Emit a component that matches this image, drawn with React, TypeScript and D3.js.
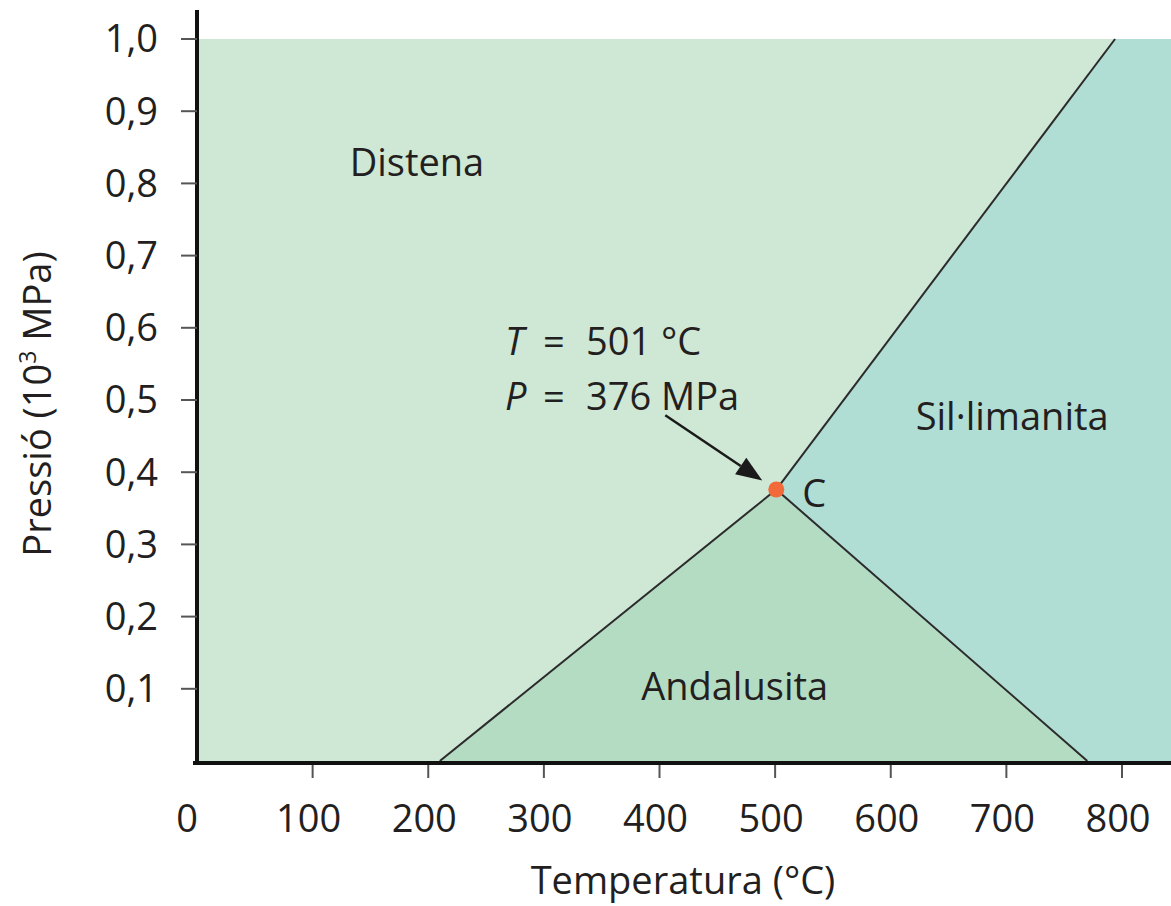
import React from 'react'
import * as d3 from 'd3'

// phase diagram Al2SiO5
const tempTicks = [0, 100, 200, 300, 400, 500, 600, 700, 800]
const presTicks = [0.1, 0.2, 0.3, 0.4, 0.5, 0.6, 0.7, 0.8, 0.9, 1.0]
const triplePoint = { T: 501, P: 0.376 }
const kyaniteAndalusite = [[210, 0], [501, 0.376]]
const kyaniteSillimanite = [[501, 0.376], [794, 1.0]]
const andalusiteSillimanite = [[501, 0.376], [770, 0]]
const phaseNames = ['Distena', 'Andalusita', 'Sil·limanita']
const annotationValues = ['501 °C', '376 MPa']

const W = 1171
const H = 906
const font = '"Open Sans", "Noto Sans", sans-serif'
const fs = 38
const textColor = '#231f20'

const x = d3.scaleLinear().domain([0, 800]).range([197, 1122])
const y = d3.scaleLinear().domain([0, 1]).range([761, 39])
const tMax = x.invert(W)

const line = d3.line<number[]>().x(d => x(d[0])).y(d => y(d[1]))
const area = (pts: number[][]) => line(pts) + 'Z'

const C: number[] = [triplePoint.T, triplePoint.P]
const distenaPoly = [[0, 0], kyaniteAndalusite[0], C, kyaniteSillimanite[1], [0, 1]]
const andalusitaPoly = [kyaniteAndalusite[0], C, andalusiteSillimanite[1]]
const sillimanitaPoly = [C, kyaniteSillimanite[1], [tMax, 1], [tMax, 0], andalusiteSillimanite[1]]

export default function App() {
    const cx = x(triplePoint.T)
    const cy = y(triplePoint.P)
    // arrow from the label down to the point
    const a0 = [x(405), y(0.479)]
    const a1 = [cx - 14, cy - 9]
    const ang = Math.atan2(a1[1] - a0[1], a1[0] - a0[0])
    const hl = 26, hw = 10
    const base = [a1[0] - hl * Math.cos(ang), a1[1] - hl * Math.sin(ang)]
    const head = [
        a1,
        [base[0] + hw * Math.sin(ang), base[1] - hw * Math.cos(ang)],
        [base[0] - hw * Math.sin(ang), base[1] + hw * Math.cos(ang)],
    ]

    return (
        <svg width={W} height={H} style={{ position: 'absolute', left: 0, top: 0, background: 'white' }}>
            <path d={area(distenaPoly)} fill='#cfe7d5' />
            <path d={area(andalusitaPoly)} fill='#b3dcc3' />
            <path d={area(sillimanitaPoly)} fill='#b0ddd4' />

            <path d={line(kyaniteAndalusite)!} stroke='#2b2b2b' strokeWidth={2} fill='none' />
            <path d={line(kyaniteSillimanite)!} stroke='#2b2b2b' strokeWidth={2} fill='none' />
            <path d={line(andalusiteSillimanite)!} stroke='#2b2b2b' strokeWidth={2} fill='none' />

            {/* axes */}
            <line x1={x(0)} x2={x(0)} y1={10} y2={765} stroke='#111' strokeWidth={4} />
            <line x1={x(0) - 4} x2={W} y1={y(0) + 2} y2={y(0) + 2} stroke='#111' strokeWidth={4} />
            {presTicks.map(p => (
                <g key={p}>
                    <line x1={181} x2={x(0)} y1={y(p)} y2={y(p)} stroke='#555' strokeWidth={2} />
                    <text x={158} y={y(p)} dy='0.35em' textAnchor='end' fontFamily={font} fontSize={fs} fill={textColor}>
                        {d3.format('.1f')(p).replace('.', ',')}
                    </text>
                </g>
            ))}
            {tempTicks.map(t => (
                <g key={t}>
                    {t > 0 && <line x1={x(t)} x2={x(t)} y1={765} y2={778} stroke='#555' strokeWidth={2} />}
                    <text x={t === 0 ? x(t) - 10 : x(t) - 4} y={832} textAnchor='middle' fontFamily={font} fontSize={fs} fill={textColor}>
                        {t}
                    </text>
                </g>
            ))}

            <text x={683} y={894} textAnchor='middle' fontFamily={font} fontSize={fs} fill={textColor}>Temperatura (°C)</text>
            <text transform='translate(51,404) rotate(-90)' textAnchor='middle' fontFamily={font} fontSize={fs} fill={textColor}>
                Pressió (10<tspan fontSize={23} dy={-15}>3</tspan><tspan dy={15}> MPa)</tspan>
            </text>

            {/* phase labels */}
            <text x={x(132)} y={y(0.81)} fontFamily={font} fontSize={fs} fill={textColor}>{phaseNames[0]}</text>
            <text x={x(465)} y={y(0.085)} textAnchor='middle' fontFamily={font} fontSize={fs} fill={textColor}>{phaseNames[1]}</text>
            <text x={x(705)} y={y(0.458)} textAnchor='middle' fontFamily={font} fontSize={fs} fill={textColor}>{phaseNames[2]}</text>

            {/* triple point */}
            <path d={`M${a0[0]},${a0[1]}L${base[0]},${base[1]}`} stroke='#1a1a1a' strokeWidth={2.5} />
            <path d={`M${head.map(p => p.join(',')).join('L')}Z`} fill='#1a1a1a' />
            <circle cx={cx} cy={cy} r={8} fill='#f26a3a' />
            <text x={cx + 26} y={cy + 17} fontFamily={font} fontSize={fs} fill={textColor}>C</text>
            <text x={505} y={355} fontFamily={font} fontSize={fs} fill={textColor}>
                <tspan fontStyle='italic'>T</tspan>
                <tspan x={543}>=</tspan>
                <tspan x={586}>{annotationValues[0]}</tspan>
            </text>
            <text x={505} y={410} fontFamily={font} fontSize={fs} fill={textColor}>
                <tspan fontStyle='italic'>P</tspan>
                <tspan x={543}>=</tspan>
                <tspan x={586}>{annotationValues[1]}</tspan>
            </text>
        </svg>
    )
}
